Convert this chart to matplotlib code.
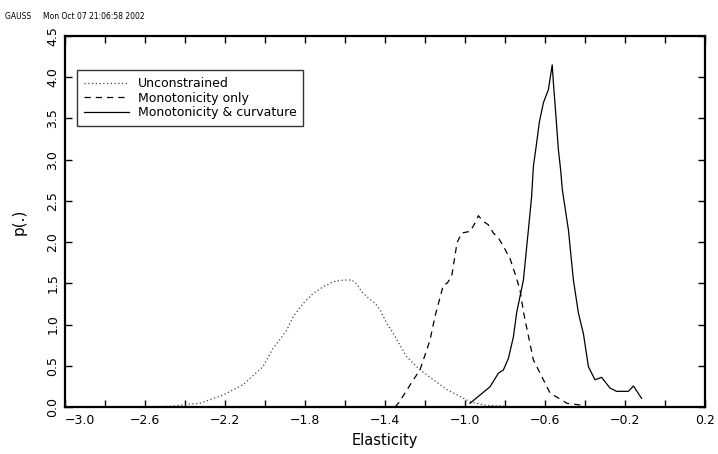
import numpy as np
import matplotlib
matplotlib.use('Agg')
import matplotlib.pyplot as plt

# values
x_unc = [-2.70, -2.62, -2.53, -2.46, -2.40, -2.325, -2.21, -2.11, -2.01, -1.96,
         -1.925, -1.892, -1.858, -1.808, -1.758, -1.708, -1.658, -1.608, -1.567,
         -1.54, -1.517, -1.483, -1.45, -1.425, -1.392, -1.358, -1.325, -1.292,
         -1.225, -1.09, -0.975, -0.90, -0.80]
y_unc = [0.0, 0.0, 0.005, 0.01, 0.03, 0.045, 0.145, 0.27, 0.49, 0.71,
         0.82, 0.93, 1.10, 1.26, 1.38, 1.46, 1.52, 1.54, 1.54,
         1.49, 1.40, 1.32, 1.26, 1.18, 1.02, 0.89, 0.75, 0.61,
         0.45, 0.21, 0.065, 0.02, 0.01]

x_mono = [-1.35, -1.333, -1.258, -1.225, -1.175, -1.15, -1.108, -1.09, -1.067,
          -1.04, -1.017, -0.975, -0.95, -0.933, -0.908, -0.883, -0.858, -0.833,
          -0.808, -0.775, -0.75, -0.725, -0.708, -0.70, -0.658, -0.608, -0.575,
          -0.49, -0.458, -0.41]
y_mono = [0.0, 0.045, 0.33, 0.45, 0.81, 1.10, 1.48, 1.50, 1.58,
          1.99, 2.11, 2.13, 2.23, 2.32, 2.25, 2.21, 2.11, 2.05,
          1.95, 1.80, 1.62, 1.42, 1.16, 1.06, 0.57, 0.33, 0.17,
          0.045, 0.035, 0.02]

x_curv = [-0.975, -0.925, -0.875, -0.833, -0.808, -0.783, -0.758, -0.742, -0.708,
          -0.683, -0.667, -0.658, -0.642, -0.628, -0.608, -0.583, -0.564, -0.558,
          -0.545, -0.533, -0.522, -0.513, -0.483, -0.458, -0.433, -0.408, -0.383,
          -0.35, -0.317, -0.275, -0.242, -0.183, -0.158, -0.117]
y_curv = [0.045, 0.145, 0.245, 0.41, 0.45, 0.59, 0.85, 1.14, 1.54,
          2.15, 2.55, 2.92, 3.20, 3.46, 3.69, 3.85, 4.15, 3.93,
          3.52, 3.12, 2.88, 2.63, 2.15, 1.54, 1.14, 0.89, 0.49,
          0.33, 0.36, 0.23, 0.19, 0.19, 0.255, 0.105]

labels = ['Unconstrained', 'Monotonicity only', 'Monotonicity & curvature']
xticks = np.arange(-3.0, 0.21, 0.2)
xlabels = ['-3.0', '', '-2.6', '', '-2.2', '', '-1.8', '', '-1.4', '', '-1.0',
           '', '-0.6', '', '-0.2', '', '0.2']
yticks = np.arange(0, 4.51, 0.5)

fig = plt.figure(figsize=(7.18, 4.54), dpi=100)
ax = fig.add_axes([65 / 718, 1 - 407 / 454, 640 / 718, 371 / 454])

ax.plot(x_unc, y_unc, color='#444444', lw=0.9, linestyle=(0, (1, 2)), label=labels[0])
ax.plot(x_mono, y_mono, color='black', lw=0.9, linestyle=(0, (5, 4)), label=labels[1])
ax.plot(x_curv, y_curv, color='black', lw=0.9, label=labels[2])

ax.set_xlim(-3.0, 0.2)
ax.set_ylim(0, 4.5)
ax.set_xticks(xticks)
ax.set_xticklabels([l.replace('-', '\u2212') for l in xlabels], fontsize=9)
ax.set_yticks(yticks)
ax.set_yticklabels(['%.1f' % v for v in yticks], fontsize=9, rotation=90, va='center')
ax.tick_params(direction='in', length=5, width=1, top=True, right=True)
ax.tick_params(axis='x', pad=5)
ax.tick_params(axis='y', pad=4)
ax.get_xticklabels()[0].set_horizontalalignment('left')
for s in ax.spines.values():
    s.set_linewidth(1.6)

ax.set_xlabel('Elasticity', fontsize=10.5, labelpad=4)
ax.set_ylabel('p(.)', fontsize=11, labelpad=14)

leg = ax.legend(loc='upper left', bbox_to_anchor=(0.019, 0.908), fontsize=9,
                frameon=True, fancybox=False, borderaxespad=0, handlelength=3.6,
                borderpad=0.55, labelspacing=0.12, handletextpad=0.7)
leg.get_frame().set_edgecolor('black')
leg.get_frame().set_linewidth(1.0)

fig.text(0.007, 0.958, 'GAUSS     Mon Oct 07 21:06:58 2002', fontsize=5.5)

fig.savefig('out.png', dpi=100)
